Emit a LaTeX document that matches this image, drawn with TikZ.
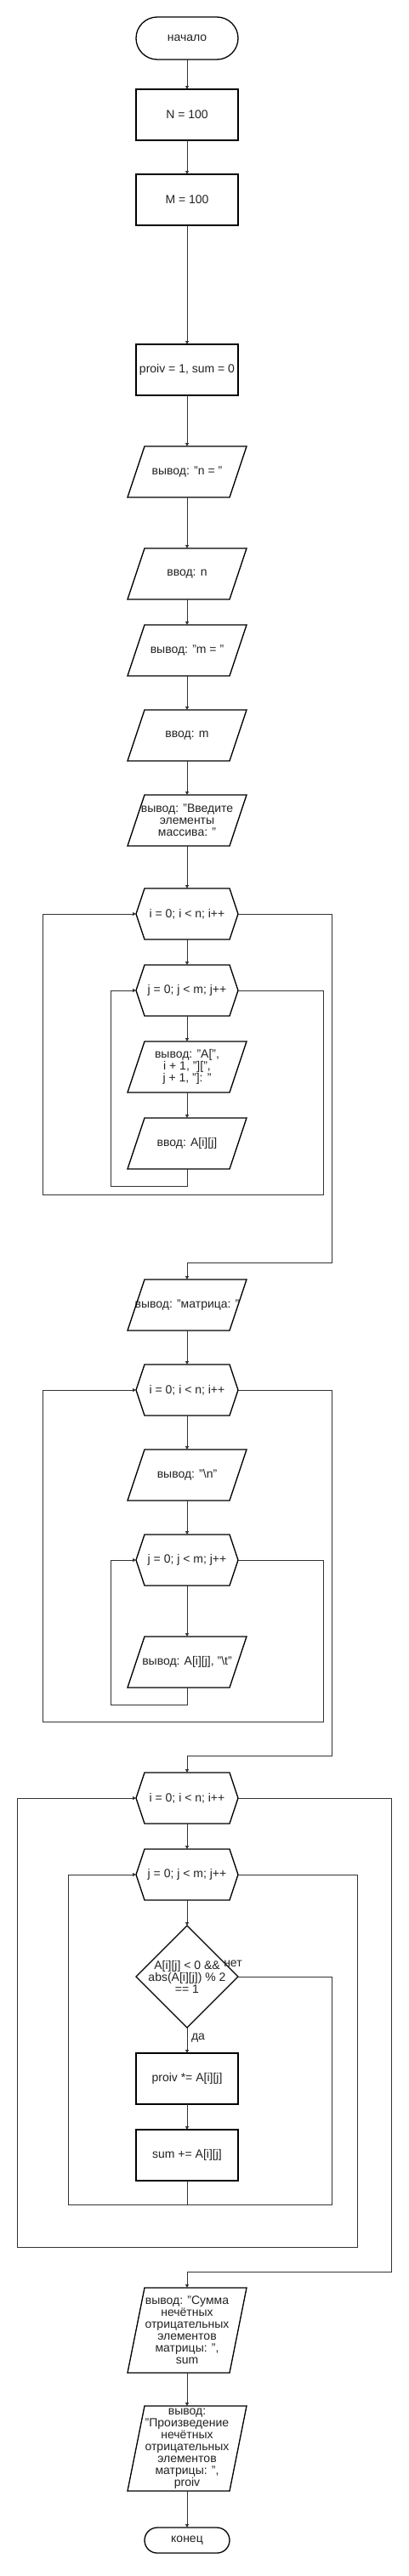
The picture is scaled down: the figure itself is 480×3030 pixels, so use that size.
\documentclass[tikz,border=0pt]{standalone}
\usepackage{fontspec}
\setmainfont{Liberation Sans}
\usetikzlibrary{arrows.meta}
\definecolor{ln}{HTML}{333333}
\definecolor{tx}{HTML}{222222}
\newcommand\ioshape[1]{\draw[shp] ([xshift=20pt]#1.north west) -- (#1.north east) -- ([xshift=-20pt]#1.south east) -- (#1.south west) -- cycle;}
\newcommand\hexshape[1]{\draw[shp] ([xshift=10pt]#1.north west) -- ([xshift=-10pt]#1.north east) -- (#1.east) -- ([xshift=-10pt]#1.south east) -- ([xshift=10pt]#1.south west) -- (#1.west) -- cycle;}
\newcommand\diashape[1]{\draw[shp] (#1.north) -- (#1.east) -- (#1.south) -- (#1.west) -- cycle;}
\begin{document}
\begin{tikzpicture}[x=1pt,y=-1pt,
  base/.style={inner sep=0pt, outer sep=0pt, align=center, text=tx, font=\fontsize{14}{14}\selectfont},
  shp/.style={draw=black, line width=1.3pt, line join=miter},
  proc/.style={base, shp, rectangle, minimum width=120pt, minimum height=60pt},
  term/.style={base, shp, rectangle, rounded corners=25pt, minimum width=120pt, minimum height=50pt},
  iob/.style={base, rectangle, minimum width=140pt, minimum height=60pt},
  hexb/.style={base, rectangle, minimum width=120pt, minimum height=60pt},
  diab/.style={base, rectangle, minimum width=120pt, minimum height=120pt},
  conn/.style={draw=ln, line width=1pt, -{Triangle[length=4pt,width=4pt]}},
  plainln/.style={draw=ln, line width=1pt},
  lbl/.style={base}
]
\useasboundingbox[fill=white] (0,0) rectangle (480,3030);

% nodes
\node[term] (start) at (220,45) {начало};
\node[proc] (n1) at (220,135) {N = 100};
\node[proc] (m1) at (220,235) {M = 100};
\node[proc] (p1) at (220,435) {proiv = 1, sum = 0};
\node[iob] (o1) at (220,555) {вывод: "n = "}; \ioshape{o1}
\node[iob] (i1) at (220,675) {ввод: n}; \ioshape{i1}
\node[iob] (o2) at (220,765) {вывод: "m = "}; \ioshape{o2}
\node[iob] (i2) at (220,865) {ввод: m}; \ioshape{i2}
\node[iob] (o3) at (220,965) {вывод: "Введите\\элементы\\массива: "}; \ioshape{o3}
\node[hexb] (L1) at (220,1075) {i = 0; i < n; i++}; \hexshape{L1}
\node[hexb] (L2) at (220,1165) {j = 0; j < m; j++}; \hexshape{L2}
\node[iob] (o4) at (220,1255) {вывод: "A[",\\ i + 1, "][",\\ j + 1, "]: "}; \ioshape{o4}
\node[iob] (i3) at (220,1345) {ввод: A[i][j]}; \ioshape{i3}
\node[iob] (o5) at (220,1535) {вывод: "матрица: "}; \ioshape{o5}
\node[hexb] (L3) at (220,1635) {i = 0; i < n; i++}; \hexshape{L3}
\node[iob] (o6) at (220,1735) {вывод: "\textbackslash n"}; \ioshape{o6}
\node[hexb] (L4) at (220,1835) {j = 0; j < m; j++}; \hexshape{L4}
\node[iob] (o7) at (220,1955) {вывод: A[i][j], "\textbackslash t"}; \ioshape{o7}
\node[hexb] (L5) at (220,2115) {i = 0; i < n; i++}; \hexshape{L5}
\node[hexb] (L6) at (220,2205) {j = 0; j < m; j++}; \hexshape{L6}
\node[diab] (d1) at (220,2325) {A[i][j] < 0 \&\&\\abs(A[i][j]) \% 2\\== 1}; \diashape{d1}
\node[proc] (p2) at (220,2445) {proiv *= A[i][j]};
\node[proc] (p3) at (220,2535) {sum += A[i][j]};
\node[iob, minimum height=100pt] (o8) at (220,2741) {вывод: "Сумма\\нечётных\\отрицательных\\элементов\\матрицы: ",\\sum}; \ioshape{o8}
\node[iob, minimum height=100pt] (o9) at (220,2880) {вывод:\\"Произведение\\нечётных\\отрицательных\\элементов\\матрицы: ",\\proiv}; \ioshape{o9}
\node[term, minimum width=100pt, minimum height=30pt, rounded corners=15pt] (end) at (220,2988) {конец};

% straight connectors
\draw[conn] (start) -- (n1);
\draw[conn] (n1) -- (m1);
\draw[conn] (m1) -- (p1);
\draw[conn] (p1) -- (o1);
\draw[conn] (o1) -- (i1);
\draw[conn] (i1) -- (o2);
\draw[conn] (o2) -- (i2);
\draw[conn] (i2) -- (o3);
\draw[conn] (o3) -- (L1);
\draw[conn] (L1) -- (L2);
\draw[conn] (L2) -- (o4);
\draw[conn] (o4) -- (i3);
\draw[conn] (o5) -- (L3);
\draw[conn] (L3) -- (o6);
\draw[conn] (o6) -- (L4);
\draw[conn] (L4) -- (o7);
\draw[conn] (L5) -- (L6);
\draw[conn] (L6) -- (d1);
\draw[conn] (d1) -- node[lbl, right, xshift=5pt, yshift=3pt] (yes) {да} (p2);
\draw[conn] (p2) -- (p3);
\draw[conn] (o8) -- (o9);
\draw[conn] (o9) -- (end);

% loop 1
\draw[conn] (i3.south) -- (220,1395) -- (130,1395) |- (L2.west);
\draw[conn] (L2.east) -- (380,1165) -- (380,1405) -- (50,1405) |- (L1.west);
\draw[conn] (L1.east) -- (390,1075) -- (390,1485) -| (o5.north);

% loop 2
\draw[conn] (o7.south) -- (220,2005) -- (130,2005) |- (L4.west);
\draw[conn] (L4.east) -- (380,1835) -- (380,2025) -- (50,2025) |- (L3.west);
\draw[conn] (L3.east) -- (390,1635) -- (390,2065) -| (L5.north);

% loop 3
\coordinate (jn) at (220,2593);
\draw[plainln] (p3.south) -- (jn);
\draw[conn] (d1.east) -- (390,2325) -- (390,2593) -- (80,2593) |- (L6.west);
\node[lbl] (nolbl) at (274,2310) {нет};
\draw[conn] (L6.east) -- (420,2205) -- (420,2643) -- (20,2643) |- (L5.west);
\draw[conn] (L5.east) -- (460,2115) -- (460,2672) -| (o8.north);
\end{tikzpicture}
\end{document}
